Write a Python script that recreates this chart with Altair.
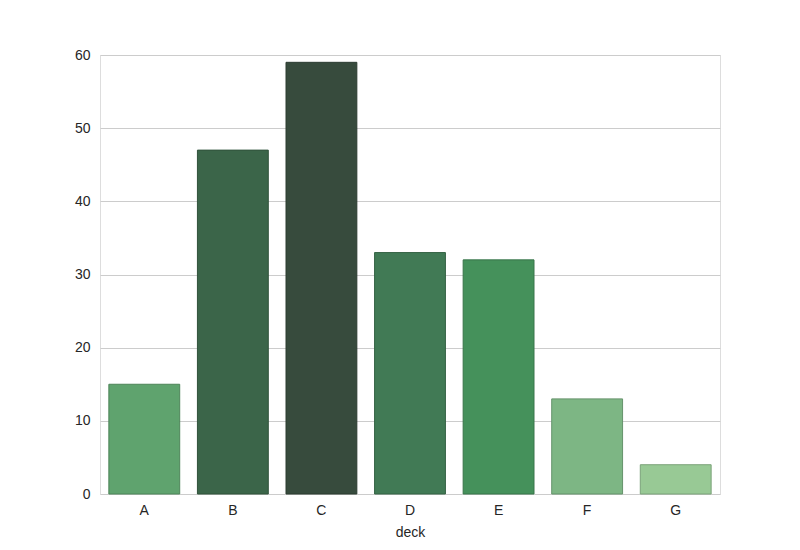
import altair as alt
import pandas as pd

decks = ["A", "B", "C", "D", "E", "F", "G"]
counts = [15, 47, 59, 33, 32, 13, 4]
colors = ["#5fa36e", "#3b6549", "#374b3d", "#417a55", "#45915b", "#7db684", "#98c995"]
strokes = ["#4d8458", "#30523b", "#2c3c31", "#356345", "#38754a", "#65936b", "#7ba279"]

df = pd.DataFrame({"deck": decks, "count": counts, "color": colors, "stroke": strokes})

chart = alt.Chart(df).mark_bar(strokeWidth=1).encode(
    x=alt.X("deck:N", sort=decks,
            scale=alt.Scale(paddingInner=0.2, paddingOuter=0.1),
            axis=alt.Axis(title="deck", labelAngle=0, ticks=False, domain=False,
                          grid=False, labelPadding=9, titlePadding=8,
                          labelFont="Liberation Sans", titleFont="Liberation Sans",
                          labelFontSize=14, titleFontSize=14, titleFontWeight="normal",
                          labelColor="#262626", titleColor="#262626")),
    y=alt.Y("count:Q", scale=alt.Scale(domain=[0, 60], nice=False),
            axis=alt.Axis(title=None, values=[0, 10, 20, 30, 40, 50, 60], ticks=False,
                          domain=False, grid=True, gridColor="#cccccc", gridWidth=1,
                          labelPadding=10, labelFont="Liberation Sans", labelFontSize=14,
                          labelColor="#262626")),
    color=alt.Color("color:N", scale=None),
    stroke=alt.Stroke("stroke:N", scale=None),
).properties(
    width=620, height=439,
    autosize=alt.AutoSizeParams(type="none"),
    padding={"left": 92, "top": 47, "right": 72, "bottom": 48},
).configure_view(stroke="#cccccc", strokeWidth=1.5).configure(background="white")

chart.save("out.html", embed_options={"renderer": "svg", "actions": False})
